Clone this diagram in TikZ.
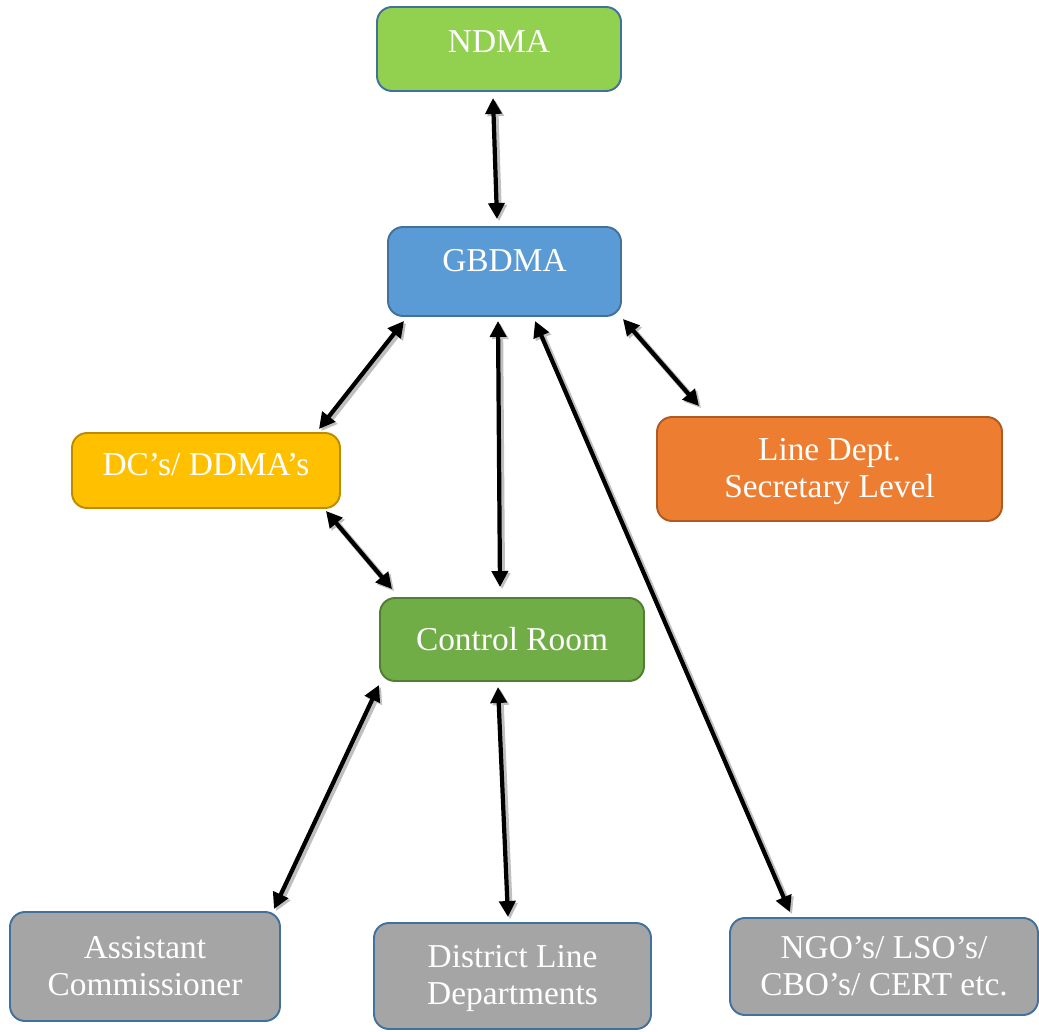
\documentclass[tikz,border=0pt]{standalone}
\usepackage{fontspec}
\setmainfont{Liberation Serif}
\usetikzlibrary{arrows.meta}
\definecolor{ndmagreen}{HTML}{92D050}
\definecolor{gbblue}{HTML}{5B9BD5}
\definecolor{edgeblue}{HTML}{41719C}
\definecolor{dcyellow}{HTML}{FFC000}
\definecolor{dcedge}{HTML}{BC8C00}
\definecolor{lineorange}{HTML}{ED7D31}
\definecolor{lineedge}{HTML}{AE5A21}
\definecolor{ctrlgreen}{HTML}{70AD47}
\definecolor{ctrledge}{HTML}{507E32}
\definecolor{boxgray}{HTML}{A5A5A5}
\tikzstyle{orgbox} = [rectangle, rounded corners=0.3cm,
line width=1.1pt,
text=white,
align=center,
inner sep=0pt,
font=\fontsize{19}{21}\selectfont]
\tikzstyle{arrow} = [line width=2.4pt,<->,>={Triangle[length=0.32cm,width=0.32cm]},
preaction={draw=black!25, line width=3.4pt, transform canvas={xshift=1.2pt,yshift=-1.2pt}}]

\begin{document}
\begin{tikzpicture}
    \useasboundingbox (0,0) rectangle (20.78,-20.64);
        \node (ndma) [orgbox, fill=ndmagreen, draw=edgeblue, minimum width=4.88cm, minimum height=1.68cm, text height=0.45cm, text depth=0.29cm] at (9.98,-0.98) {NDMA};
        \node (gbdma) [orgbox, fill=gbblue, draw=edgeblue, minimum width=4.66cm, minimum height=1.78cm, text height=0.45cm, text depth=0.47cm] at (10.09,-5.43) {GBDMA};
        \node (dc) [orgbox, fill=dcyellow, draw=dcedge, minimum width=5.36cm, minimum height=1.5cm, text height=0.45cm, text depth=0.25cm] at (4.12,-9.41) {DC’s/ DDMA’s};
        \node (line) [orgbox, fill=lineorange, draw=lineedge, minimum width=6.9cm, minimum height=2.08cm] at (16.59,-9.38) {\\[-0.2cm]Line Dept.\\Secretary Level};
        \node (ctrl) [orgbox, fill=ctrlgreen, draw=ctrledge, minimum width=5.28cm, minimum height=1.66cm] at (10.24,-12.79) {Control Room};
        \node (ac) [orgbox, fill=boxgray, draw=edgeblue, minimum width=5.4cm, minimum height=2.18cm] at (2.9,-19.33) {Assistant\\Commissioner};
        \node (dld) [orgbox, fill=boxgray, draw=edgeblue, minimum width=5.54cm, minimum height=2.12cm] at (10.25,-19.52) {\\[-0.2cm]District Line\\Departments};
        \node (ngo) [orgbox, fill=boxgray, draw=edgeblue, minimum width=6.16cm, minimum height=1.94cm] at (17.68,-19.33) {NGO’s/ LSO’s/\\CBO’s/ CERT etc.};
        \draw [arrow] ([shift={(-0.12,-0.12)}]ndma.south) -- ([shift={(-0.15,0.14)}]gbdma.north);
        \draw [arrow] ([shift={(0.34,-0.08)}]gbdma.south west) -- ([shift={(-0.44,0.06)}]dc.north east);
        \draw [arrow] ([shift={(-0.13,-0.08)}]gbdma.south) -- ([shift={(-0.24,0.2)}]ctrl.north);
        \draw [arrow] ([shift={(0.61,-0.08)}]gbdma.south) -- ([shift={(-1.88,0.1)}]ngo.north);
        \draw [arrow] ([shift={(0.02,-0.04)}]gbdma.south east) -- ([shift={(0.86,0.2)}]line.north west);
        \draw [arrow] ([shift={(-0.3,-0.04)}]dc.south east) -- ([shift={(0.26,0.16)}]ctrl.north west);
        \draw [arrow] ([shift={(0,-0.06)}]ctrl.south west) -- ([shift={(-0.14,0.04)}]ac.north east);
        \draw [arrow] ([shift={(-0.28,-0.1)}]ctrl.south) -- ([shift={(-0.09,0.1)}]dld.north);
    \end{tikzpicture}
\end{document}
